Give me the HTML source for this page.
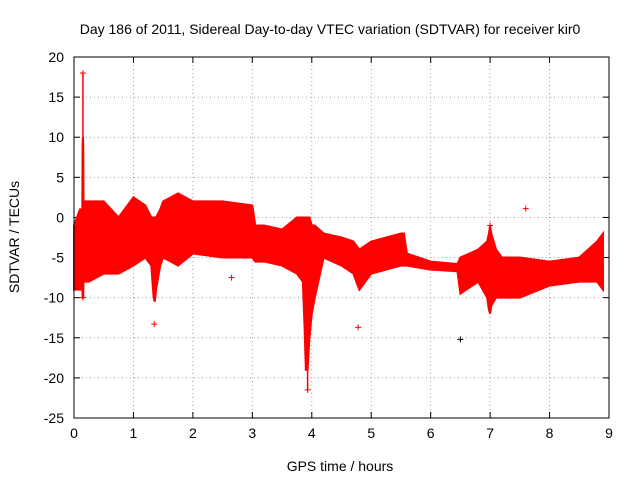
<!DOCTYPE html>
<html><head><meta charset="utf-8"><style>
body{margin:0;background:#fff;}
svg{font-family:"Liberation Sans",sans-serif;font-size:14px;}
</style></head><body>
<svg id="c" width="640" height="480"></svg>
<script>
const xTicks=[0,1,2,3,4,5,6,7,8,9];
const yTicks=[20,15,10,5,0,-5,-10,-15,-20,-25];
const times=[0,0.1,0.14,0.145,0.15,0.155,0.16,0.25,0.5,0.75,1.0,1.2,1.3,1.34,1.36,1.38,1.45,1.5,1.75,2.0,2.5,3.0,3.05,3.2,3.5,3.75,3.85,3.88,3.9,3.93,3.96,4.0,4.05,4.2,4.5,4.7,4.8,5.0,5.5,5.55,5.6,6.0,6.45,6.5,6.8,6.95,6.98,7.0,7.02,7.1,7.2,7.5,8.0,8.5,8.8,8.9];
const upper=[-1,1,1,9,10,9,2,2,2,0,2.5,1.5,0,0,0,0,1,2,3,2,2,1.5,-1,-1,-1.5,0,0,0,0,0,0,-1,-1,-2,-2.5,-3,-4,-3,-2,-2,-4.5,-5.5,-5.8,-5,-4,-3,-2,-1,-2,-4,-5,-5,-5.5,-5,-3,-2];
const lower=[-9,-9,-9,-10,-10,-10,-8,-8,-7,-7,-6,-5,-6,-10,-10.5,-9,-6,-5,-6,-4.5,-5,-5,-5.5,-5.5,-6,-7,-8,-14,-19,-19,-15,-12,-10,-5,-6,-7,-9,-7,-6,-6,-6,-6.5,-6.7,-9.5,-8,-10,-11.5,-12,-11,-10,-10,-10,-8.5,-8,-8,-9];
const outX=[0.15,1.35,2.65,4.78,7.6,3.93,0.15,7.0];
const outY=[18,-13.3,-7.5,-13.7,1.1,-21.5,-10,-1];
const blackX=[6.5];
const blackY=[-15.2];
const spikeX=[0.15,3.93];
const spikeTop=[18,-5];
const spikeBot=[-10,-21.5];

const L=74,R=609,T=57,B=418;
const sx=v=>L+(v-0)/(9-0)*(R-L);
const sy=v=>B-(v+25)/45*(B-T);
const svg=document.getElementById('c');
const NS='http://www.w3.org/2000/svg';
function mk(tag,at,parent){const e=document.createElementNS(NS,tag);for(const k in at)e.setAttribute(k,at[k]);(parent||svg).appendChild(e);return e;}

let e=mk('text',{x:330,y:34,'text-anchor':'middle'});e.textContent='Day 186 of 2011, Sidereal Day-to-day VTEC variation (SDTVAR) for receiver kir0';


e=mk('text',{x:340,y:471,'text-anchor':'middle'});e.textContent='GPS time / hours';


e=mk('text',{x:0,y:0,'text-anchor':'middle',transform:'translate(19,237) rotate(-90)'});e.textContent='SDTVAR / TECUs';



xTicks.forEach(v=>{const x=sx(v);
 if(v>0&&v<9){e=mk('line',{x1:x,x2:x,y1:T,y2:B,stroke:'#a0a0a0','stroke-dasharray':'1,3'});}
 mk('line',{x1:x,x2:x,y1:B,y2:B-6,stroke:'#000'});mk('line',{x1:x,x2:x,y1:T,y2:T+6,stroke:'#000'});
 e=mk('text',{x:x,y:B+20,'text-anchor':'middle'});e.textContent=v;
 
 
});
yTicks.forEach(v=>{const y=sy(v);
 if(v>-25&&v<20){e=mk('line',{x1:L,x2:R,y1:y,y2:y,stroke:'#a0a0a0','stroke-dasharray':'1,3'});}
 mk('line',{x1:L,x2:L+6,y1:y,y2:y,stroke:'#000'});mk('line',{x1:R,x2:R-6,y1:y,y2:y,stroke:'#000'});
 e=mk('text',{x:L-10,y:y+5,'text-anchor':'end'});e.textContent=v;
 
 
});

let pts=times.map((t,i)=>sx(t)+','+sy(upper[i]));
for(let i=times.length-1;i>=0;i--)pts.push(sx(times[i])+','+sy(lower[i]));
e=mk('polygon',{points:pts.join(' '),fill:'#ff0000',stroke:'#ff0000','stroke-width':2});


spikeX.forEach((v,i)=>{e=mk('line',{x1:sx(v),x2:sx(v),y1:sy(spikeTop[i]),y2:sy(spikeBot[i]),stroke:'#ff0000','stroke-width':1.5});
 
 });
function cross(x,y,col,name){const g=mk('g',{stroke:col});
 mk('line',{x1:x-3,x2:x+3,y1:y,y2:y},g);mk('line',{x1:x,x2:x,y1:y-3,y2:y+3},g);
 
 }
outX.forEach((v,i)=>cross(sx(v),sy(outY[i]),'#ff0000','outlier-point'));
blackX.forEach((v,i)=>cross(sx(v),sy(blackY[i]),'#000','black-outlier-point'));

e=mk('rect',{x:L,y:T,width:R-L,height:B-T,fill:'none',stroke:'#000'});


</script>
</body></html>
